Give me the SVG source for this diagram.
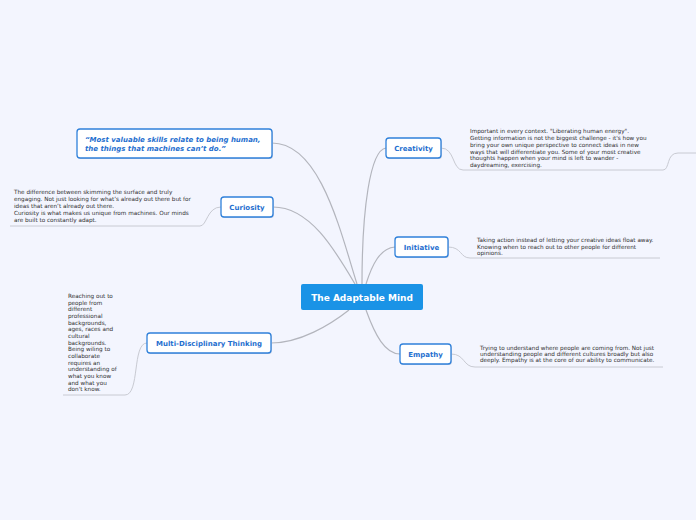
<svg xmlns="http://www.w3.org/2000/svg" width="696" height="520" viewBox="0 0 696 520">
<style>
.bg{fill:#f3f5fe}
.node rect{fill:#ffffff;stroke:#2f80da;stroke-width:1.3}
.lbl{font-family:"DejaVu Sans",Verdana,sans-serif;font-weight:bold;font-size:7px;fill:#1f6fcf;text-anchor:middle}
.quote{font-family:"DejaVu Sans",Verdana,sans-serif;font-weight:bold;font-style:italic;font-size:7px;fill:#1f6fcf}
.note{font-family:"DejaVu Sans",Verdana,sans-serif;font-size:5.7px;fill:#2e2e2e}
.conn path{fill:none;stroke:#b3b5bd;stroke-width:1.2}
.conn path.u{stroke:#c8cad2;stroke-width:1}
</style>
<rect class="bg" x="0" y="0" width="696" height="520"/>
<g class="conn">
<path d="M272,143 C320,143 340,230 357,284"/>
<path d="M273,207 C310,207 335,250 355,284"/>
<path d="M386,148 C370,150 362,210 362,284"/>
<path d="M395,247 C380,248 372,265 366,284"/>
<path d="M366,310 C375,335 385,354 400,354"/>
<path d="M271,343 C300,343 330,325 349,310"/>
<path class="u" d="M10,226 L200,226 C207,226 207,207 221,207"/>
<path class="u" d="M441,148 C455,148 452,170 463,170 L663,170 C670,170 666,153 678,153 L696,153"/>
<path class="u" d="M448,247 C462,247 460,258 470,258 L660,258"/>
<path class="u" d="M451,354 C465,354 463,367 475,367 L663,367"/>
<path class="u" d="M63,395 L125,395 C140,395 132,343 147,343"/>
</g>
<g id="central">
<rect x="301" y="284" width="122" height="26" rx="2" fill="#1a93e6"/>
<text x="362" y="301" font-family="'DejaVu Sans',Verdana,sans-serif" font-weight="bold" font-size="9" fill="#ffffff" text-anchor="middle">The Adaptable Mind</text>
</g>
<g id="quote" class="node">
<rect x="78" y="130" width="195" height="29" rx="3" style="fill:#c9d1e3;stroke:none"/>
<rect x="77" y="129" width="195" height="29" rx="3"/>
<text class="quote" x="85" y="142">“Most valuable skills relate to being human,</text>
<text class="quote" x="85" y="151">the things that machines can’t do.”</text>
</g>
<g id="curiosity" class="node">
<rect x="222" y="198" width="52" height="20" rx="3" style="fill:#c9d1e3;stroke:none"/>
<rect x="221" y="197" width="52" height="20" rx="3"/>
<text class="lbl" x="247" y="210">Curiosity</text>
</g>
<g id="curiosity-note">
<text class="note" x="14" y="194">The difference between skimming the surface and truly</text>
<text class="note" x="14" y="201">engaging. Not just looking for what’s already out there but for</text>
<text class="note" x="14" y="208">ideas that aren’t already out there.</text>
<text class="note" x="14" y="215">Curiosity is what makes us unique from machines. Our minds</text>
<text class="note" x="14" y="222">are built to constantly adapt.</text>
</g>
<g id="creativity" class="node">
<rect x="387" y="139" width="55" height="20" rx="3" style="fill:#c9d1e3;stroke:none"/>
<rect x="386" y="138" width="55" height="20" rx="3"/>
<text class="lbl" x="413.5" y="151">Creativity</text>
</g>
<g id="creativity-note">
<text class="note" x="470" y="133">Important in every context. "Liberating human energy".</text>
<text class="note" x="470" y="140">Getting information is not the biggest challenge - it's how you</text>
<text class="note" x="470" y="146.5">bring your own unique perspective to connect ideas in new</text>
<text class="note" x="470" y="153.5">ways that will differentiate you. Some of your most creative</text>
<text class="note" x="470" y="160">thoughts happen when your mind is left to wander -</text>
<text class="note" x="470" y="166.5">daydreaming, exercising.</text>
</g>
<g id="initiative" class="node">
<rect x="396" y="238" width="53" height="20" rx="3" style="fill:#c9d1e3;stroke:none"/>
<rect x="395" y="237" width="53" height="20" rx="3"/>
<text class="lbl" x="421.5" y="250">Initiative</text>
</g>
<g id="initiative-note">
<text class="note" x="477" y="242">Taking action instead of letting your creative ideas float away.</text>
<text class="note" x="477" y="248.5">Knowing when to reach out to other people for different</text>
<text class="note" x="477" y="255">opinions.</text>
</g>
<g id="empathy" class="node">
<rect x="401" y="345" width="51" height="20" rx="3" style="fill:#c9d1e3;stroke:none"/>
<rect x="400" y="344" width="51" height="20" rx="3"/>
<text class="lbl" x="425.5" y="357">Empathy</text>
</g>
<g id="empathy-note">
<text class="note" x="480" y="349.5">Trying to understand where people are coming from. Not just</text>
<text class="note" x="480" y="355.5">understanding people and different cultures broadly but also</text>
<text class="note" x="480" y="362">deeply. Empathy is at the core of our ability to communicate.</text>
</g>
<g id="multi" class="node">
<rect x="148" y="334" width="124" height="20" rx="3" style="fill:#c9d1e3;stroke:none"/>
<rect x="147" y="333" width="124" height="20" rx="3"/>
<text class="lbl" x="209" y="346">Multi-Disciplinary Thinking</text>
</g>
<g id="multi-note">
<text class="note" x="68" y="298">Reaching out to</text>
<text class="note" x="68" y="304.7">people from</text>
<text class="note" x="68" y="311.3">different</text>
<text class="note" x="68" y="318">professional</text>
<text class="note" x="68" y="324.6">backgrounds,</text>
<text class="note" x="68" y="331.3">ages, races and</text>
<text class="note" x="68" y="338">cultural</text>
<text class="note" x="68" y="344.6">backgrounds.</text>
<text class="note" x="68" y="351.3">Being wiling to</text>
<text class="note" x="68" y="357.9">collaborate</text>
<text class="note" x="68" y="364.6">requires an</text>
<text class="note" x="68" y="371.3">understanding of</text>
<text class="note" x="68" y="377.9">what you know</text>
<text class="note" x="68" y="384.6">and what you</text>
<text class="note" x="68" y="391.3">don't know.</text>
</g>
</svg>
